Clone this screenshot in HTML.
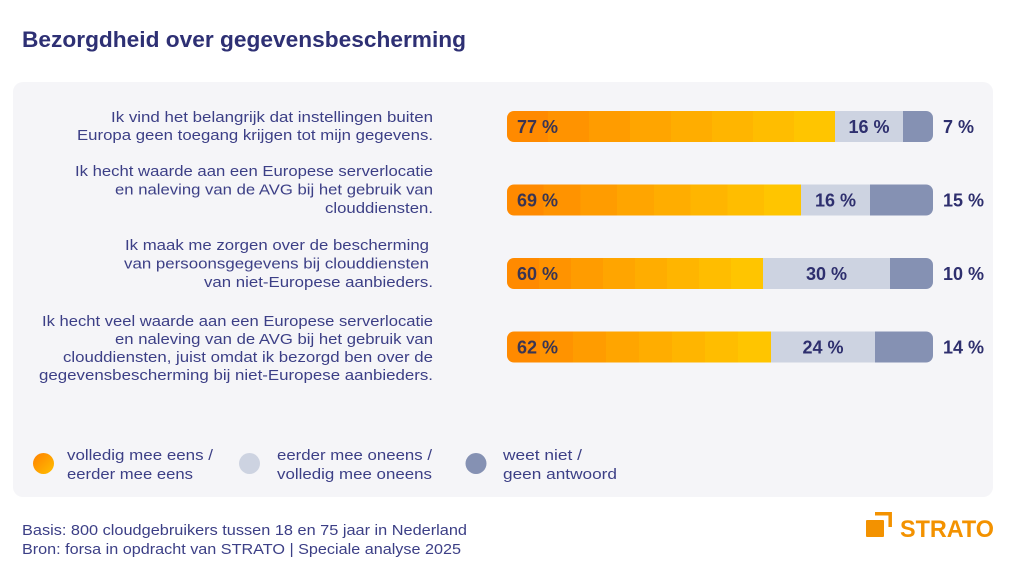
<!DOCTYPE html>
<html>
<head>
<meta charset="utf-8">
<style>
  html,body{margin:0;padding:0;background:#ffffff;}
  svg{display:block;}
  text{font-family:"Liberation Sans", Arial, sans-serif;}
  .q{font-size:15px;fill:#3c3f86;}
  .lg{font-size:15px;fill:#3c3f86;}
  .ft{font-size:15px;fill:#3c3f86;}
  .pd{font-size:18px;font-weight:bold;fill:#3a3553;}
  .pn{font-size:18px;font-weight:bold;fill:#2e2f6e;}
</style>
</head>
<body>
<svg width="1024" height="576" viewBox="0 0 1024 576" xmlns="http://www.w3.org/2000/svg">
  <defs>
    <linearGradient id="og" x1="0" y1="0" x2="1" y2="0">
      <stop offset="0" stop-color="#ff8a00"/><stop offset="0.125" stop-color="#ff8a00"/>
      <stop offset="0.125" stop-color="#ff9300"/><stop offset="0.25" stop-color="#ff9300"/>
      <stop offset="0.25" stop-color="#ff9c00"/><stop offset="0.375" stop-color="#ff9c00"/>
      <stop offset="0.375" stop-color="#ffa500"/><stop offset="0.5" stop-color="#ffa500"/>
      <stop offset="0.5" stop-color="#ffad00"/><stop offset="0.625" stop-color="#ffad00"/>
      <stop offset="0.625" stop-color="#ffb500"/><stop offset="0.75" stop-color="#ffb500"/>
      <stop offset="0.75" stop-color="#ffbd00"/><stop offset="0.875" stop-color="#ffbd00"/>
      <stop offset="0.875" stop-color="#ffc500"/><stop offset="1" stop-color="#ffc500"/>
    </linearGradient>
    <linearGradient id="dot" x1="0" y1="0" x2="1" y2="1">
      <stop offset="0" stop-color="#ff8000"/>
      <stop offset="1" stop-color="#ffc000"/>
    </linearGradient>
    <clipPath id="c1"><rect x="507" y="111" width="426" height="31" rx="7"/></clipPath>
    <clipPath id="c2"><rect x="507" y="184.5" width="426" height="31" rx="7"/></clipPath>
    <clipPath id="c3"><rect x="507" y="258" width="426" height="31" rx="7"/></clipPath>
    <clipPath id="c4"><rect x="507" y="331.5" width="426" height="31" rx="7"/></clipPath>
  </defs>

  <!-- Title -->
  <text x="22" y="47" font-size="22" font-weight="bold" fill="#2e3074" textLength="444" lengthAdjust="spacingAndGlyphs">Bezorgdheid over gegevensbescherming</text>

  <!-- Panel -->
  <rect x="13" y="82" width="980" height="415" rx="10" fill="#f5f5f8"/>

  <!-- Questions -->
  <text class="q" x="111" y="122" textLength="322" lengthAdjust="spacingAndGlyphs">Ik vind het belangrijk dat instellingen buiten</text>
  <text class="q" x="77" y="140" textLength="356" lengthAdjust="spacingAndGlyphs">Europa geen toegang krijgen tot mijn gegevens.</text>

  <text class="q" x="75" y="176" textLength="358" lengthAdjust="spacingAndGlyphs">Ik hecht waarde aan een Europese serverlocatie</text>
  <text class="q" x="115" y="194.5" textLength="318" lengthAdjust="spacingAndGlyphs">en naleving van de AVG bij het gebruik van</text>
  <text class="q" x="325" y="213" textLength="108" lengthAdjust="spacingAndGlyphs">clouddiensten.</text>

  <text class="q" x="125" y="250" textLength="304" lengthAdjust="spacingAndGlyphs">Ik maak me zorgen over de bescherming</text>
  <text class="q" x="124" y="268.5" textLength="305" lengthAdjust="spacingAndGlyphs">van persoonsgegevens bij clouddiensten</text>
  <text class="q" x="204" y="287" textLength="229" lengthAdjust="spacingAndGlyphs">van niet-Europese aanbieders.</text>

  <text class="q" x="42" y="326" textLength="391" lengthAdjust="spacingAndGlyphs">Ik hecht veel waarde aan een Europese serverlocatie</text>
  <text class="q" x="115" y="344" textLength="318" lengthAdjust="spacingAndGlyphs">en naleving van de AVG bij het gebruik van</text>
  <text class="q" x="63" y="362" textLength="370" lengthAdjust="spacingAndGlyphs">clouddiensten, juist omdat ik bezorgd ben over de</text>
  <text class="q" x="39" y="380" textLength="394" lengthAdjust="spacingAndGlyphs">gegevensbescherming bij niet-Europese aanbieders.</text>

  <!-- Bar 1: 77 / 16 / 7 -->
  <g clip-path="url(#c1)">
    <rect x="507" y="111" width="328" height="31" fill="url(#og)"/>
    <rect x="835" y="111" width="68" height="31" fill="#cdd3e1"/>
    <rect x="903" y="111" width="30" height="31" fill="#8591b3"/>
  </g>
  <text class="pd" x="517" y="133">77 %</text>
  <text class="pn" x="869" y="133" text-anchor="middle">16 %</text>
  <text class="pn" x="943" y="133">7 %</text>

  <!-- Bar 2: 69 / 16 / 15 -->
  <g clip-path="url(#c2)">
    <rect x="507" y="184.5" width="294" height="31" fill="url(#og)"/>
    <rect x="801" y="184.5" width="69" height="31" fill="#cdd3e1"/>
    <rect x="870" y="184.5" width="63" height="31" fill="#8591b3"/>
  </g>
  <text class="pd" x="517" y="206.5">69 %</text>
  <text class="pn" x="835.5" y="206.5" text-anchor="middle">16 %</text>
  <text class="pn" x="943" y="206.5">15 %</text>

  <!-- Bar 3: 60 / 30 / 10 -->
  <g clip-path="url(#c3)">
    <rect x="507" y="258" width="256" height="31" fill="url(#og)"/>
    <rect x="763" y="258" width="127" height="31" fill="#cdd3e1"/>
    <rect x="890" y="258" width="43" height="31" fill="#8591b3"/>
  </g>
  <text class="pd" x="517" y="280">60 %</text>
  <text class="pn" x="826.5" y="280" text-anchor="middle">30 %</text>
  <text class="pn" x="943" y="280">10 %</text>

  <!-- Bar 4: 62 / 24 / 14 -->
  <g clip-path="url(#c4)">
    <rect x="507" y="331.5" width="264" height="31" fill="url(#og)"/>
    <rect x="771" y="331.5" width="104" height="31" fill="#cdd3e1"/>
    <rect x="875" y="331.5" width="58" height="31" fill="#8591b3"/>
  </g>
  <text class="pd" x="517" y="353.5">62 %</text>
  <text class="pn" x="823" y="353.5" text-anchor="middle">24 %</text>
  <text class="pn" x="943" y="353.5">14 %</text>

  <!-- Legend -->
  <circle cx="43.5" cy="463.5" r="10.5" fill="url(#dot)"/>
  <text class="lg" x="67" y="460" textLength="146" lengthAdjust="spacingAndGlyphs">volledig mee eens /</text>
  <text class="lg" x="67" y="479" textLength="126" lengthAdjust="spacingAndGlyphs">eerder mee eens</text>

  <circle cx="249.5" cy="463.5" r="10.5" fill="#cdd3e1"/>
  <text class="lg" x="277" y="460" textLength="155" lengthAdjust="spacingAndGlyphs">eerder mee oneens /</text>
  <text class="lg" x="277" y="479" textLength="155" lengthAdjust="spacingAndGlyphs">volledig mee oneens</text>

  <circle cx="476" cy="463.5" r="10.5" fill="#8591b3"/>
  <text class="lg" x="503" y="460" textLength="79" lengthAdjust="spacingAndGlyphs">weet niet /</text>
  <text class="lg" x="503" y="479" textLength="114" lengthAdjust="spacingAndGlyphs">geen antwoord</text>

  <!-- Footer -->
  <text class="ft" x="22" y="535" textLength="445" lengthAdjust="spacingAndGlyphs">Basis: 800 cloudgebruikers tussen 18 en 75 jaar in Nederland</text>
  <text class="ft" x="22" y="554" textLength="439" lengthAdjust="spacingAndGlyphs">Bron: forsa in opdracht van STRATO | Speciale analyse 2025</text>

  <!-- STRATO logo -->
  <rect x="866" y="520" width="18" height="17" rx="1" fill="#f39200"/>
  <path d="M875 513.8 H890.2 V527" fill="none" stroke="#f39200" stroke-width="3.5"/>
  <text x="900" y="537" font-size="24" font-weight="bold" fill="#f39200" textLength="94" lengthAdjust="spacingAndGlyphs">STRATO</text>
</svg>
</body>
</html>
